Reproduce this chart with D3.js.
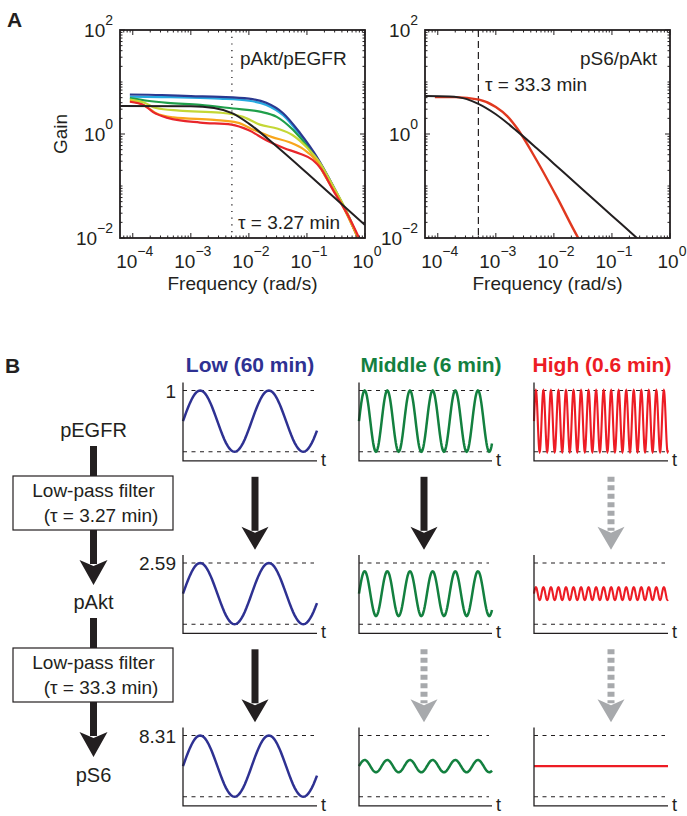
<!DOCTYPE html>
<html>
<head>
<meta charset="utf-8">
<script src="https://cdn.jsdelivr.net/npm/d3@7"></script>
<style>
body { margin: 0; background: #fff; }
svg { display: block; }
text { font-family: "Liberation Sans", Arial, Helvetica, sans-serif; fill: #231f20; }
</style>
</head>
<body>
<svg id="fig" width="687" height="816"></svg>
<script>
'use strict';

// ---- Panel A data: [log10 frequency (rad/s), log10 gain] ----
var akt_navy = [[-4.05,0.76],[-3.5,0.75],[-3,0.73],[-2.5,0.715],[-2.0,0.68],[-1.7,0.6],[-1.41,0.40],[-1.12,0.02],[-0.83,-0.44],[-0.55,-1.0],[-0.32,-1.5],[-0.1,-2.05]];
var akt_lightblue = [[-4.05,0.72],[-3.5,0.71],[-3,0.70],[-2.5,0.68],[-2.0,0.64],[-1.7,0.56],[-1.41,0.36],[-1.12,-0.02],[-0.83,-0.46],[-0.55,-1.0],[-0.32,-1.5],[-0.1,-2.05]];
var akt_green = [[-4.05,0.69],[-3.75,0.64],[-3.4,0.6],[-2.84,0.56],[-2.27,0.49],[-1.81,0.43],[-1.52,0.33],[-1.24,0.08],[-0.95,-0.31],[-0.66,-0.85],[-0.37,-1.4],[-0.1,-2.05]];
var akt_yellow = [[-4.05,0.66],[-3.8,0.6],[-3.6,0.5],[-3.2,0.45],[-2.5,0.41],[-2.1,0.33],[-1.81,0.18],[-1.5,0.10],[-1.25,-0.02],[-1.0,-0.26],[-0.78,-0.55],[-0.55,-1.0],[-0.32,-1.48],[-0.1,-2.05]];
var akt_orange = [[-4.05,0.64],[-3.8,0.55],[-3.6,0.4],[-3.3,0.32],[-2.6,0.27],[-2.2,0.22],[-1.9,0.07],[-1.6,-0.06],[-1.3,-0.16],[-1.05,-0.3],[-0.85,-0.5],[-0.66,-0.86],[-0.4,-1.35],[-0.1,-2.05]];
var akt_red = [[-4.05,0.62],[-3.8,0.55],[-3.65,0.42],[-3.4,0.31],[-2.84,0.22],[-2.3,0.18],[-2.0,0.07],[-1.7,-0.12],[-1.4,-0.27],[-1.12,-0.38],[-0.9,-0.5],[-0.75,-0.68],[-0.55,-1.08],[-0.3,-1.55],[-0.08,-2.05]];
var akt_model = [[-4.22,0.54],[-3.0,0.535],[-2.6,0.5],[-2.29,0.4],[-2.0,0.2],[-1.5,-0.26],[-1.0,-0.75],[-0.5,-1.25],[0,-1.75]];

var s6_red = [[-4.05,0.71],[-3.7,0.71],[-3.29,0.66],[-3.0,0.52],[-2.8,0.34],[-2.64,0.12],[-2.3,-0.5],[-1.95,-1.21],[-1.58,-2.0],[-1.5,-2.15]];
var s6_model = [[-4.22,0.73],[-3.8,0.72],[-3.5,0.67],[-3.3,0.58],[-3.0,0.38],[-2.64,0.06],[-2.3,-0.27],[-2,-0.57],[-1.5,-1.07],[-1,-1.57],[-0.5,-2.07]];

var x_tick_exps = [-4, -3, -2, -1, 0];
var y_tick_exps = [-2, 0, 2];

// ---- Panel B data ----
var species = ["pEGFR", "pAkt", "pS6"];
var filter_taus = ["3.27", "33.3"];
var level_labels = ["1", "2.59", "8.31"];
var band_titles = ["Low (60 min)", "Middle (6 min)", "High (0.6 min)"];
var band_colors = ["#2e3192", "#13803f", "#ed1c24"];
var band_cycles = [1.95, 5.87, 17.8];          // cycles visible in each small plot
var band_amps = [[1, 1, 1], [1, 0.73, 0.21], [1, 0.2, 0]];  // relative amplitude per row
var band_passes = [[true, true, false], [true, false, false]]; // arrow is solid (passes) or grey

var colors = {
    ink: "#231f20",
    grey: "#a7a9ac",
};

var svg = d3.select("#fig");
var uid = 0;

function draw_bode(box, series, tau, labels) {
    var x = d3.scaleLog().domain([Math.pow(10, -4.22), 1]).range([box.x0, box.x1]);
    var y = d3.scaleLog().domain([0.01, 100]).range([box.y1, box.y0]);
    var g = svg.append("g");

    var clip_id = "clip" + (uid++);
    svg.append("clipPath").attr("id", clip_id)
       .append("rect")
       .attr("x", box.x0).attr("y", box.y0)
       .attr("width", box.x1 - box.x0).attr("height", box.y1 - box.y0);

    // tau marker
    g.append("line")
     .attr("x1", x(tau.freq)).attr("x2", x(tau.freq))
     .attr("y1", box.y0).attr("y2", box.y1)
     .attr("stroke", colors.ink)
     .attr("stroke-width", tau.dotted ? 1.3 : 1.2)
     .attr("stroke-dasharray", tau.dotted ? "1.2,5.5" : "7,4");

    var line = d3.line()
                 .x(d => x(Math.pow(10, d[0])))
                 .y(d => y(Math.pow(10, d[1])))
                 .curve(d3.curveMonotoneX);

    var lines = g.append("g").attr("clip-path", "url(#" + clip_id + ")");
    for (const s of series) {
        lines.append("path")
             .datum(s.data)
             .attr("d", line)
             .attr("fill", "none")
             .attr("stroke", s.color)
             .attr("stroke-width", s.width || 2.2)
             .attr("stroke-linejoin", "round");
    }

    // minor ticks (inside, all four sides)
    var minor_x = [], minor_y = [];
    for (var e = -5; e <= 0; e++) {
        for (var m = 2; m <= 9; m++) {
            var v = m * Math.pow(10, e);
            if (v > x.domain()[0] && v < 1) minor_x.push(v);
        }
    }
    for (var e2 = -2; e2 < 2; e2++) {
        for (var m2 = 1; m2 <= 9; m2++) {
            var v2 = m2 * Math.pow(10, e2);
            if (m2 == 1 && (e2 % 2 == 0)) continue;
            minor_y.push(v2);
        }
    }
    var ticks = g.append("g").attr("stroke", colors.ink).attr("stroke-width", 1);
    minor_x.forEach(v => {
        ticks.append("line").attr("x1", x(v)).attr("x2", x(v)).attr("y1", box.y1).attr("y2", box.y1 - 2.5);
        ticks.append("line").attr("x1", x(v)).attr("x2", x(v)).attr("y1", box.y0).attr("y2", box.y0 + 2.5);
    });
    minor_y.forEach(v => {
        ticks.append("line").attr("y1", y(v)).attr("y2", y(v)).attr("x1", box.x0).attr("x2", box.x0 + 2.5);
        ticks.append("line").attr("y1", y(v)).attr("y2", y(v)).attr("x1", box.x1).attr("x2", box.x1 - 2.5);
    });
    x_tick_exps.forEach(e => {
        var px = x(Math.pow(10, e));
        ticks.append("line").attr("x1", px).attr("x2", px).attr("y1", box.y1).attr("y2", box.y1 - 5);
        ticks.append("line").attr("x1", px).attr("x2", px).attr("y1", box.y0).attr("y2", box.y0 + 5);
        pow_label(px + 2, box.y1 + 30, e, "middle");
    });
    y_tick_exps.forEach(e => {
        var py = y(Math.pow(10, e));
        ticks.append("line").attr("y1", py).attr("y2", py).attr("x1", box.x0).attr("x2", box.x0 + 5);
        ticks.append("line").attr("y1", py).attr("y2", py).attr("x1", box.x1).attr("x2", box.x1 - 5);
        pow_label(box.x0 - 7, py + 7, e, "end");
    });

    g.append("rect")
     .attr("x", box.x0).attr("y", box.y0)
     .attr("width", box.x1 - box.x0).attr("height", box.y1 - box.y0)
     .attr("fill", "none").attr("stroke", colors.ink).attr("stroke-width", 1.8);

    svg.append("text")
       .attr("x", (box.x0 + box.x1) / 2).attr("y", 290)
       .attr("text-anchor", "middle").style("font-size", "19px")
       .text("Frequency (rad/s)");

    labels.forEach(l => {
        svg.append("text").attr("x", l.x).attr("y", l.y)
           .attr("text-anchor", l.anchor || "start")
           .style("font-size", "19px").text(l.text);
    });
}

function pow_label(x, y, e, anchor) {
    var t = svg.append("text").attr("x", x).attr("y", y)
               .attr("text-anchor", anchor).style("font-size", "19px");
    t.append("tspan").text("10");
    t.append("tspan").attr("dy", -12).style("font-size", "14px")
     .text(e < 0 ? "\u2212" + (-e) : String(e));
}

// ---------------- Panel A ----------------
svg.append("text").attr("x", 7).attr("y", 27)
   .style("font-size", "21px").style("font-weight", "bold").text("A");

draw_bode({x0: 120, x1: 365, y0: 30, y1: 238}, [
    {data: akt_lightblue, color: "#27aae1"},
    {data: akt_navy, color: "#2b3990"},
    {data: akt_green, color: "#1f9f4a"},
    {data: akt_yellow, color: "#c4d736"},
    {data: akt_orange, color: "#f8a61c"},
    {data: akt_red, color: "#e8262b"},
    {data: akt_model, color: colors.ink, width: 2},
], {freq: 1 / (3.27 * 60), dotted: true}, [
    {text: "pAkt/pEGFR", x: 240, y: 65},
    {text: "\u03c4 = 3.27 min", x: 238, y: 229},
]);

draw_bode({x0: 425, x1: 670, y0: 30, y1: 238}, [
    {data: s6_red, color: "#e0381f", width: 2.4},
    {data: s6_model, color: colors.ink, width: 2},
], {freq: 1 / (33.3 * 60), dotted: false}, [
    {text: "pS6/pAkt", x: 657, y: 65, anchor: "end"},
    {text: "\u03c4 = 33.3 min", x: 485, y: 91},
]);

svg.append("text")
   .attr("transform", "translate(67,134) rotate(-90)")
   .attr("text-anchor", "middle").style("font-size", "19px").text("Gain");

// ---------------- Panel B ----------------
svg.append("text").attr("x", 5).attr("y", 373)
   .style("font-size", "21px").style("font-weight", "bold").text("B");

var cols = [{x0: 183, x1: 317, arrow: 255}, {x0: 359, x1: 492, arrow: 424}, {x0: 534, x1: 668, arrow: 611}];
var row_tops = [390.5, 563, 735.5];
var dash_h = 61.3;
var title_x = [250, 431, 602];

band_titles.forEach((t, i) => {
    svg.append("text").attr("x", title_x[i]).attr("y", 372)
       .attr("text-anchor", "middle")
       .style("font-size", "21px").style("font-weight", "bold")
       .style("fill", band_colors[i]).text(t);
});

function arrow(cx, y_top, y_head, y_tip, half_w, solid) {
    var c = solid ? colors.ink : colors.grey;
    svg.append("line")
       .attr("x1", cx).attr("x2", cx).attr("y1", y_top).attr("y2", y_head + 4)
       .attr("stroke", c).attr("stroke-width", 7)
       .attr("stroke-dasharray", solid ? null : "5,3.5");
    svg.append("path")
       .attr("d", d3.line()([[cx - half_w, y_head], [cx, y_head + 6], [cx + half_w, y_head], [cx, y_tip]]) + "Z")
       .attr("fill", c);
}

row_tops.forEach((top, r) => {
    var bottom = top + dash_h;
    cols.forEach((col, c) => {
        var x = d3.scaleLinear().domain([0, band_cycles[c]]).range([col.x0, col.x1]);
        var y = d3.scaleLinear().domain([-1, 1]).range([bottom, top]);
        var g = svg.append("g");

        [-1, 1].forEach(v => {
            g.append("line")
             .attr("x1", col.x0).attr("x2", col.x1 - 3)
             .attr("y1", y(v)).attr("y2", y(v))
             .attr("stroke", colors.ink).attr("stroke-width", 1.1)
             .attr("stroke-dasharray", "4,4.5");
        });

        var amp = band_amps[r][c];
        var n = Math.round(band_cycles[c] * 40);
        var pts = d3.range(n + 1).map(i => {
            var t = band_cycles[c] * i / n;
            return [t, amp * Math.sin(2 * Math.PI * t)];
        });
        g.append("path")
         .datum(pts)
         .attr("d", d3.line().x(d => x(d[0])).y(d => y(d[1])))
         .attr("fill", "none")
         .attr("stroke", band_colors[c])
         .attr("stroke-width", c == 2 ? 2.1 : 2.5);

        g.append("path")
         .attr("d", d3.line()([[col.x0, top - 8], [col.x0, bottom + 9], [col.x1, bottom + 9]]))
         .attr("fill", "none").attr("stroke", colors.ink).attr("stroke-width", 1.3);
        g.append("text").attr("x", col.x1 + 4).attr("y", bottom + 14)
         .style("font-size", "18px").text("t");
    });

    svg.append("text").attr("x", 176).attr("y", top + 7)
       .attr("text-anchor", "end").style("font-size", "19px").text(level_labels[r]);
});

// arrows between rows
band_passes.forEach((row, r) => {
    var base = row_tops[r] + dash_h + 9;
    row.forEach((solid, c) => {
        arrow(cols[c].arrow, base + 16, base + 66, base + 89, 13.5, solid);
    });
});

// ---------------- left flow chart ----------------
var flow_x = 93.5;
var species_base = [437, 609, 782];
species.forEach((s, i) => {
    svg.append("text").attr("x", flow_x).attr("y", species_base[i])
       .attr("text-anchor", "middle").style("font-size", "20px").text(s);
});
filter_taus.forEach((tau, i) => {
    var b = species_base[i];
    arrow(flow_x, b + 9, b + 123, b + 148, 14, true);
    var bt = b + 39;
    svg.append("rect").attr("x", 13).attr("y", bt).attr("width", 160).attr("height", 54)
       .attr("fill", "#fff").attr("stroke", colors.ink).attr("stroke-width", 1.2);
    svg.append("text").attr("x", flow_x).attr("y", bt + 21)
       .attr("text-anchor", "middle").style("font-size", "19px").text("Low-pass filter");
    svg.append("text").attr("x", 101).attr("y", bt + 46)
       .attr("text-anchor", "middle").style("font-size", "19px")
       .text("(\u03c4 = " + tau + " min)");
});
</script>
</body>
</html>
